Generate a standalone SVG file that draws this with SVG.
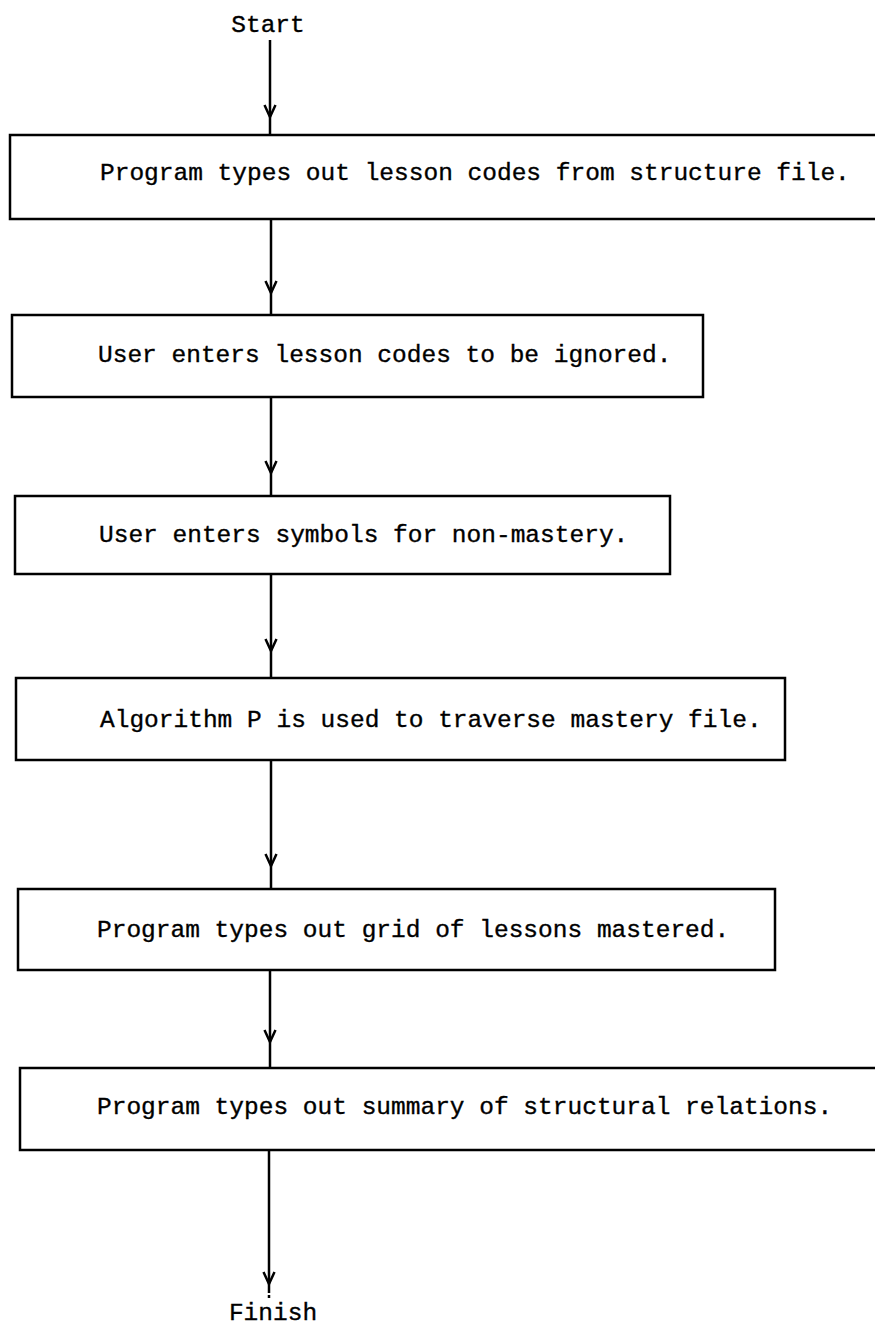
<svg xmlns="http://www.w3.org/2000/svg" width="875" height="1326" viewBox="0 0 875 1326">
<defs>
<style>
.box{fill:none;stroke:#000;stroke-width:2.5}
.lbl{font-family:"Liberation Mono","Courier New",monospace;font-size:24.5px;fill:#000;stroke:#000;stroke-width:0.35}
.con{fill:none;stroke:#000;stroke-width:2.5;marker-mid:url(#v)}
</style>
<marker id="v" markerUnits="userSpaceOnUse" viewBox="-14 -8 16 16" refX="0" refY="0" markerWidth="16" markerHeight="16" orient="auto">
<path d="M-12,-5.5 L0,0 L-12,5.5" fill="none" stroke="#000" stroke-width="2.5"/>
</marker>
</defs>
<rect width="875" height="1326" fill="#fff"/>
<g id="connectors">
<path class="con" d="M270,40 L270,117 L270,135"/>
<path class="con" d="M271,219 L271,293 L271,315"/>
<path class="con" d="M271,397 L271,473 L271,495"/>
<path class="con" d="M271,574 L271,651 L271,679"/>
<path class="con" d="M271,760 L271,866 L271,889"/>
<path class="con" d="M270,970 L270,1042 L270,1068"/>
<path class="con" d="M269,1150 L269,1284 L269,1290"/>
<line x1="269" y1="1290" x2="269" y2="1298" stroke="#000" stroke-width="2.5" stroke-dasharray="3 2"/>
</g>
<g id="start"><text class="lbl" x="268" y="32" text-anchor="middle">Start</text></g>
<g id="n1"><rect class="box" x="10" y="135" width="880" height="84"/><text class="lbl" x="100" y="180">Program types out lesson codes from structure file.</text></g>
<g id="n2"><rect class="box" x="12" y="315" width="691" height="82"/><text class="lbl" x="98" y="362">User enters lesson codes to be ignored.</text></g>
<g id="n3"><rect class="box" x="15" y="496" width="655" height="78"/><text class="lbl" x="99" y="542">User enters symbols for non-mastery.</text></g>
<g id="n4"><rect class="box" x="16" y="678" width="769" height="82"/><text class="lbl" x="100" y="727">Algorithm P is used to traverse mastery file.</text></g>
<g id="n5"><rect class="box" x="18" y="889" width="757" height="81"/><text class="lbl" x="97" y="937">Program types out grid of lessons mastered.</text></g>
<g id="n6"><rect class="box" x="20" y="1068" width="870" height="82"/><text class="lbl" x="97" y="1114">Program types out summary of structural relations.</text></g>
<g id="finish"><text class="lbl" x="273" y="1320" text-anchor="middle">Finish</text></g>
</svg>
